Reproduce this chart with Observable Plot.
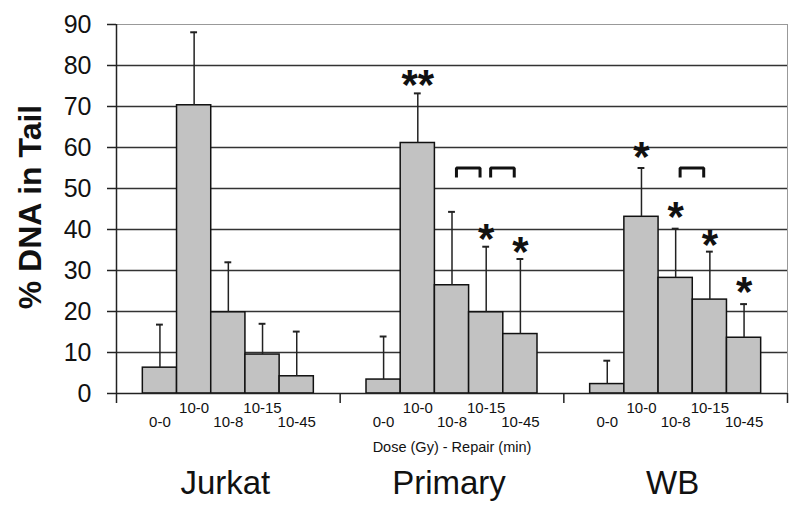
<!DOCTYPE html>
<html>
<head>
<meta charset="utf-8">
<script src="https://cdn.jsdelivr.net/npm/d3@7"></script>
<script src="https://cdn.jsdelivr.net/npm/@observablehq/plot@0.6"></script>
<style>
  html, body { margin: 0; padding: 0; background: #fff; }
  #chart svg { display: block; }
</style>
</head>
<body>
<div id="chart"></div>
<script>
// ---- data ----
const groups = ["Jurkat", "Primary", "WB"];
const conditions = ["0-0", "10-0", "10-8", "10-15", "10-45"];
const jurkatMeans  = [6.3, 70.3, 19.8, 9.5, 4.2];
const primaryMeans = [3.4, 61.1, 26.4, 19.8, 14.5];
const wbMeans      = [2.3, 43.1, 28.2, 22.9, 13.6];
const jurkatSD  = [10.5, 17.8, 12.2, 7.5, 10.9];
const primarySD = [10.5, 12.1, 17.9, 16.0, 18.3];
const wbSD      = [5.7, 11.9, 12.0, 11.7, 8.2];
const yTicks = [0, 10, 20, 30, 40, 50, 60, 70, 80, 90];
const xTitle = "Dose (Gy) - Repair (min)";
const yTitle = "% DNA in Tail";
// significance marks: group, condition, label, height (in % units)
const starGroups     = ["Primary", "Primary", "Primary", "WB", "WB", "WB", "WB"];
const starConditions = ["10-0", "10-15", "10-45", "10-0", "10-8", "10-15", "10-45"];
const starLabels     = ["**", "*", "*", "*", "*", "*", "*"];
const starHeights    = [77.5, 40.0, 36.9, 60.1, 45.3, 38.5, 27.1];
// brackets: group, from condition, to condition
const bracketGroups = ["Primary", "Primary", "WB"];
const bracketFrom   = ["10-8", "10-15", "10-8"];
const bracketTo     = ["10-15", "10-45", "10-15"];
const bracketTop = 55, bracketBottom = 52.7;

// ---- build table ----
const meansBy = {Jurkat: jurkatMeans, Primary: primaryMeans, WB: wbMeans};
const sdBy = {Jurkat: jurkatSD, Primary: primarySD, WB: wbSD};
const pad = 0.77;
const groupWidth = conditions.length + 2 * pad;
const xMax = groups.length * groupWidth;
const center = (g, c) => groups.indexOf(g) * groupWidth + pad + conditions.indexOf(c) + 0.5;

const rows = [];
groups.forEach(g => conditions.forEach((c, ci) => {
  rows.push({group: g, condition: c, ci, x: center(g, c), mean: meansBy[g][ci], top: meansBy[g][ci] + sdBy[g][ci]});
}));
const stars = starGroups.map((g, i) => ({x: center(g, starConditions[i]), y: starHeights[i], label: starLabels[i]}));
const bracketPts = [];
bracketGroups.forEach((g, i) => {
  const a = center(g, bracketFrom[i]) + 0.13, b = center(g, bracketTo[i]) - 0.18;
  bracketPts.push({id: i, x: a, y: bracketBottom}, {id: i, x: a, y: bracketTop},
                  {id: i, x: b, y: bracketTop}, {id: i, x: b, y: bracketBottom});
});
const boundaries = groups.map((g, i) => i * groupWidth).concat([xMax]);

const plot = Plot.plot({
  width: 800,
  height: 514,
  marginLeft: 116,
  marginRight: 13,
  marginTop: 24,
  marginBottom: 121,
  style: {fontFamily: "'Liberation Sans', Arial, Helvetica, sans-serif", background: "#fff", color: "#111", overflow: "visible"},
  x: {domain: [0, xMax], axis: null},
  y: {domain: [0, 90], axis: null},
  marks: [
    Plot.gridY(yTicks.filter(v => v > 0 && v < 90), {stroke: "#333", strokeOpacity: 1, strokeWidth: 1.5}),
    Plot.ruleY([90], {stroke: "#999", strokeWidth: 1}),
    Plot.ruleX([xMax], {y1: 0, y2: 90, stroke: "#999", strokeWidth: 1}),
    Plot.rect(rows, {x1: d => d.x - 0.5, x2: d => d.x + 0.5, y1: 0, y2: "mean", fill: "#c2c2c2", stroke: "#111", strokeWidth: 1.5}),
    Plot.ruleX(rows, {x: "x", y1: "mean", y2: "top", stroke: "#222", strokeWidth: 1.5}),
    Plot.ruleY(rows, {y: "top", x1: d => d.x - 0.1, x2: d => d.x + 0.1, stroke: "#222", strokeWidth: 2}),
    Plot.ruleY([0], {stroke: "#222", strokeWidth: 1.5}),
    Plot.ruleX([0], {y1: 0, y2: 90, stroke: "#222", strokeWidth: 1.5}),
    Plot.axisY({ticks: yTicks, tickSize: 9, tickPadding: 16, fontSize: 25, label: null, strokeWidth: 1.5, stroke: "#222"}),
    Plot.axisX(boundaries, {tickSize: 10, tickFormat: () => "", label: null, strokeWidth: 1.5, stroke: "#222"}),
    Plot.text(rows.filter(d => d.ci % 2 === 1), {x: "x", text: "condition", frameAnchor: "bottom", lineAnchor: "top", dy: 9, fontSize: 15}),
    Plot.text(rows.filter(d => d.ci % 2 === 0), {x: "x", text: "condition", frameAnchor: "bottom", lineAnchor: "top", dy: 22.5, fontSize: 15}),
    Plot.text([xTitle], {x: xMax / 2, frameAnchor: "bottom", dy: 58, fontSize: 14.5}),
    Plot.text(groups, {x: (g, i) => i * groupWidth + groupWidth / 2, frameAnchor: "bottom", dy: 100, dx: -3, fontSize: 33}),
    Plot.text([yTitle], {frameAnchor: "left", textAnchor: "middle", rotate: -90, dx: -86, dy: -2, fontSize: 32, fontWeight: "bold"}),
    Plot.text(stars, {x: "x", y: "y", text: "label", fontSize: 42, fontWeight: "bold", dy: 10}),
    Plot.line(bracketPts, {x: "x", y: "y", z: "id", stroke: "#111", strokeWidth: 3, strokeLinejoin: "miter", strokeLinecap: "butt"})
  ]
});
document.getElementById("chart").appendChild(plot);
</script>
</body>
</html>
